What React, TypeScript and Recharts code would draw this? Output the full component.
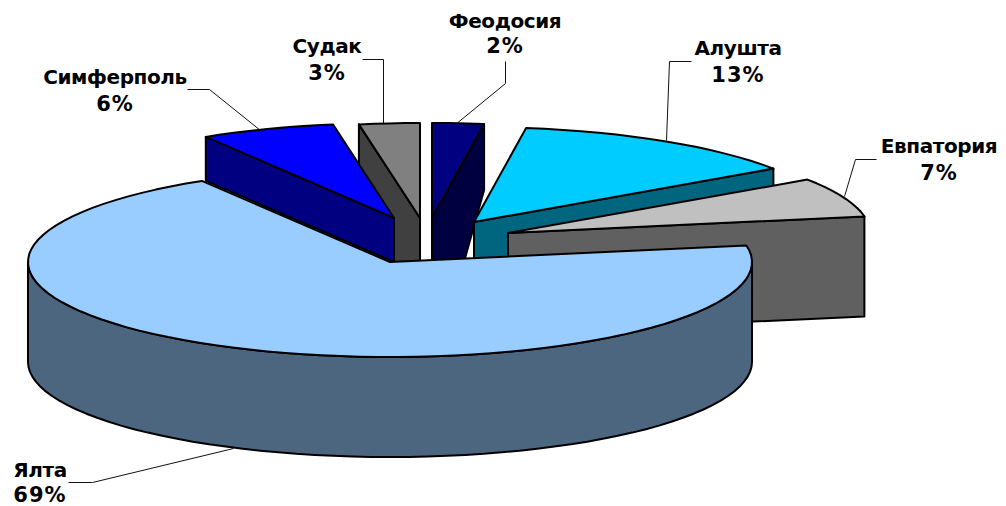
import { Pie, PieChart } from 'recharts'

const cities = ['Феодосия', 'Алушта', 'Евпатория', 'Ялта', 'Симферполь', 'Судак']
const shares = [2.3, 13.2, 6.7, 69.1, 6.0, 2.7]
const drawOrder = ['Судак', 'Феодосия', 'Алушта', 'Евпатория', 'Симферполь', 'Ялта']

const chartData = cities.map((name, i) => ({ name, value: shares[i] }))

// how far each slice is pulled out of the pie, and how it is extruded
const sliceLook: Record<string, any> = {
  'Феодосия': { dx: 42, dy: -44, depth: 44, top: '#000080', wall: '#000040', outerDepth: 66, footDx: 32 },
  'Алушта': { dx: 84, dy: -40, depth: 44, top: '#00ccff', wall: '#006680' },
  'Евпатория': { dx: 118, dy: -29, depth: 100, top: '#c0c0c0', wall: '#606060' },
  'Ялта': { dx: 0, dy: 0, depth: 100, top: '#99ccff', wall: '#4d6680' },
  'Симферполь': { dx: 4, dy: -44, depth: 44, top: '#0000ff', wall: '#000080' },
  'Судак': { dx: 30, dy: -44, depth: 44, top: '#808080', wall: '#404040', footDx: -27 },
}

const labelLook: Record<string, any> = {
  'Феодосия': { x: 505, y: 28, gap: 25, leader: '505,61 505,83 455,124' },
  'Алушта': { x: 738, y: 55, gap: 27, leader: '691,61 669,61 666,140' },
  'Евпатория': { x: 939, y: 153, gap: 27, leader: '876,159 855,159 844,196' },
  'Ялта': { x: 40, y: 477, gap: 25, leader: '68,482 92,482 233,448' },
  'Симферполь': { x: 115, y: 84, gap: 27, leader: '187,89 209,89 260,130' },
  'Судак': { x: 327, y: 53, gap: 27, leader: '362,59 383,59 383,123' },
}

const SQUASH = 0.2624
const ARC_STEP = 3

const toPath = (points: number[][]) => 'M' + points.map((p) => `${p[0].toFixed(1)},${p[1].toFixed(1)}`).join('L') + 'Z'

function arcPoints(cx: number, cy: number, rx: number, ry: number, from: number, to: number) {
  const points: number[][] = []
  const count = Math.max(1, Math.ceil(Math.abs(to - from) / ARC_STEP))
  for (let i = 0; i <= count; i++) {
    const a = ((from + ((to - from) * i) / count) * Math.PI) / 180
    points.push([cx + rx * Math.cos(a), cy - ry * Math.sin(a)])
  }
  return points
}

function Slice3D(props: any, only: string) {
  const name = props.name ?? props.payload?.name
  if (name !== only) return <g />
  const look = sliceLook[name]
  const rx = props.outerRadius
  const ry = rx * SQUASH
  const x = props.cx + look.dx
  const y = props.cy + look.dy
  const { startAngle, endAngle } = props
  const arc = arcPoints(x, y, rx, ry, startAngle, endAngle)
  const line = { stroke: '#000', strokeWidth: 2, strokeLinejoin: 'round' as const }

  let wall: number[][]
  if (endAngle < -180 && startAngle > -90) {
    // the big slice shows its rounded front
    const rim = arcPoints(x, y, rx, ry, 0, -180)
    wall = [...rim, ...rim.slice().reverse().map((p) => [p[0], p[1] + look.depth])]
  } else {
    const mid = (startAngle + endAngle) / 2
    const outer = Math.cos((mid * Math.PI) / 180) > 0 ? arc[arc.length - 1] : arc[0]
    const outerDepth = look.outerDepth ?? look.depth
    wall = [
      [x, y],
      outer,
      [outer[0], outer[1] + outerDepth],
      [x + (look.footDx ?? 0), y + look.depth],
      [x, y + look.depth],
    ]
  }

  return (
    <g>
      <path d={toPath(wall)} fill={look.wall} {...line} />
      <path d={toPath([[x, y], ...arc])} fill={look.top} {...line} />
    </g>
  )
}

function CityLabel(props: any) {
  const look = labelLook[props.name]
  const font = { fontFamily: 'DejaVu Sans', fontWeight: 'bold', fill: '#000' }
  return (
    <g>
      <polyline points={look.leader} fill="none" stroke="#111" strokeWidth={1} transform="translate(0.5,0.5)" />
      <text x={look.x} y={look.y} textAnchor="middle" fontSize={20} letterSpacing={-0.4} {...font}>
        {props.name}
      </text>
      <text x={look.x} y={look.y + look.gap} textAnchor="middle" fontSize={21} letterSpacing={1} {...font}>
        {Math.round(props.value)}%
      </text>
    </g>
  )
}

export default function App() {
  return (
    <div style={{ position: 'absolute', left: 0, top: 0, width: 1006, height: 506, background: '#fff', overflow: 'hidden' }}>
      <PieChart width={1006} height={506} margin={{ top: 0, right: 0, bottom: 0, left: 0 }}>
        {drawOrder.map((layer, i) => (
          <Pie
            key={layer}
            data={chartData}
            dataKey="value"
            nameKey="name"
            cx={390}
            cy={262}
            outerRadius={362}
            startAngle={90}
            endAngle={-270}
            isAnimationActive={false}
            labelLine={false}
            label={i === drawOrder.length - 1 ? CityLabel : false}
            shape={(props: any) => Slice3D(props, layer)}
          />
        ))}
      </PieChart>
    </div>
  )
}
